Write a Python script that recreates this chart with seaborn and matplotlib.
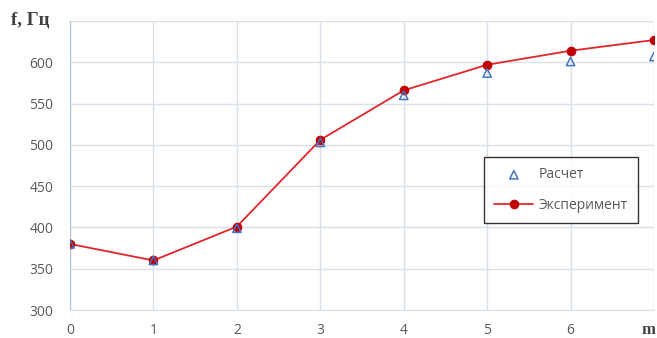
import numpy as np
import pandas as pd
import matplotlib.pyplot as plt
import seaborn as sns

# Data
m_vals = [0, 1, 2, 3, 4, 5, 6, 7]
f_calc = [380, 360, 399, 503, 560, 587, 601, 607]
f_exp = [380, 360, 401, 506, 566, 597, 614, 627]
y_ticks = [300, 350, 400, 450, 500, 550, 600]
x_ticks = [0, 1, 2, 3, 4, 5, 6]

df = pd.DataFrame({'m': m_vals, 'calc': f_calc, 'exp': f_exp})

sns.set_style("white")
plt.rcParams['font.family'] = ['Open Sans', 'DejaVu Sans']

fig = plt.figure(figsize=(6.57, 3.38), dpi=100)
ax = fig.add_axes([70 / 657, 1 - 310 / 338, 584 / 657, 289 / 338])

grid_col = '#d9e0ea'
sns.lineplot(data=df, x='m', y='exp', ax=ax, color='#e0262b', linewidth=1.3,
             marker='o', markersize=6.2, markerfacecolor='#c00000',
             markeredgecolor='#c00000', label='Эксперимент', zorder=3)
sns.scatterplot(data=df, x='m', y='calc', ax=ax, marker='^', s=36,
                facecolor='none', edgecolor='#4472c4', linewidth=1.1,
                label='Расчет', zorder=4)

ax.set_xlim(0, 7)
ax.set_ylim(300, 650)
ax.set_xticks(range(8))
ax.set_xticklabels([str(v) for v in x_ticks] + [''])
ax.set_yticks(y_ticks + [650])
ax.set_yticklabels([str(v) for v in y_ticks] + [''])
ax.grid(True, color=grid_col, linewidth=1)
ax.tick_params(axis='both', length=0, labelsize=10, labelcolor='#595959')
ax.tick_params(axis='x', pad=9)
ax.tick_params(axis='y', pad=12)
ax.set_xlabel('')
ax.set_ylabel('')
for side in ['top', 'right']:
    ax.spines[side].set_visible(False)
ax.spines['left'].set_color('#b4c2d6')
ax.spines['bottom'].set_color('#d9e0ea')

fig.text(11 / 657, 1 - 20 / 338, 'f, Гц', fontsize=13.5, fontweight='bold',
         family='Liberation Serif', color='#404040', va='center')
fig.text(641 / 657, 1 - 330 / 338, 'm', fontsize=12, fontweight='bold',
         family='Liberation Serif', color='#404040', va='center')

handles, labels = ax.get_legend_handles_labels()
order = [labels.index('Расчет'), labels.index('Эксперимент')]
leg = ax.legend([handles[i] for i in order], [labels[i] for i in order],
                loc='upper left', bbox_to_anchor=(484 / 657, 1 - 157 / 338),
                bbox_transform=fig.transFigure, borderaxespad=0,
                frameon=True, fancybox=False,
                edgecolor='black', fontsize=10, labelspacing=1.1,
                borderpad=0.75, handlelength=2.8, handletextpad=0.4,
                labelcolor='#595959')
leg.get_frame().set_linewidth(1.0)

plt.savefig('out.png', dpi=100)
